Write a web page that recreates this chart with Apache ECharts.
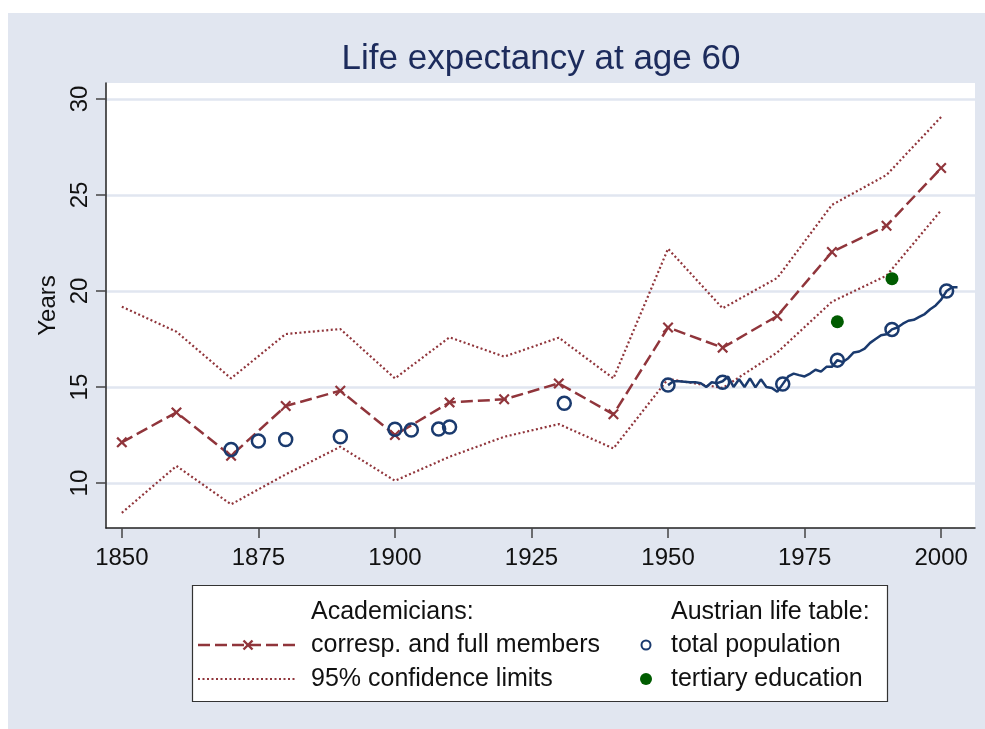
<!DOCTYPE html>
<html>
<head>
<meta charset="utf-8">
<script src="https://cdn.jsdelivr.net/npm/echarts@6/dist/echarts.min.js"></script>
<style>html,body{margin:0;padding:0;background:#fff}#c{width:985px;height:729px}</style>
</head>
<body>
<div id="c"></div>
<script>
const acadYears = [1850,1860,1870,1880,1890,1900,1910,1920,1930,1940,1950,1960,1970,1980,1990,2000];
const acadLE    = [12.12,13.68,11.42,14.01,14.81,12.5,14.2,14.36,15.19,13.58,18.1,17.05,18.7,22.03,23.4,26.4];
const ciUpper   = [19.18,17.88,15.45,17.76,18.02,15.45,17.59,16.58,17.57,15.45,22.2,19.1,20.68,24.48,26.04,29.06];
const ciLower   = [8.45,10.89,8.89,10.45,11.89,10.12,11.37,12.41,13.07,11.8,15.42,14.95,16.8,19.44,20.8,24.2];

const popYears  = [1870,1875,1880,1890,1900,1903,1908,1910,1931,1950,1960,1971,1981,1991,2001];
const popLE     = [11.75,12.19,12.27,12.41,12.8,12.76,12.81,12.92,14.15,15.1,15.25,15.16,16.4,18.0,20.0];

const annualYears = [1950,1951,1952,1953,1954,1955,1956,1957,1958,1959,1960,1961,1962,1963,1964,1965,1966,1967,1968,1969,1970,1971,1972,1973,1974,1975,1976,1977,1978,1979,1980,1981,1982,1983,1984,1985,1986,1987,1988,1989,1990,1991,1992,1993,1994,1995,1996,1997,1998,1999,2000,2001,2002,2003];
const annualLE    = [15.1,15.3,15.3,15.28,15.25,15.25,15.2,15.0,15.25,15.2,15.3,15.55,15.0,15.4,15.0,15.45,14.98,15.4,15.0,14.95,14.75,15.15,15.55,15.7,15.62,15.55,15.7,15.9,15.8,16.05,16.05,16.4,16.3,16.5,16.8,16.85,17.0,17.3,17.5,17.7,17.75,18.0,18.1,18.3,18.45,18.5,18.65,18.8,19.05,19.25,19.55,20.0,20.2,20.2];

const tertYears = [1981,1991];
const tertLE    = [18.4,20.64];

const xTicks = [1850,1875,1900,1925,1950,1975,2000];
const yTicks = [10,15,20,25,30];

const FONT = "'Liberation Sans', Arial, sans-serif";
const MAROON = '#90353b';
const NAVY = '#1a3a6e';
const GREEN = '#005c00';
const BG = '#e1e6f0';
const XMARK = 'path://M0,1.4L1.4,0L5,3.6L8.6,0L10,1.4L6.4,5L10,8.6L8.6,10L5,6.4L1.4,10L0,8.6L3.6,5Z';

const zip = (xs, ys) => xs.map((x, i) => [x, ys[i]]);

const chart = echarts.init(document.getElementById('c'), null, {renderer: 'canvas'});
chart.setOption({
  backgroundColor: '#ffffff',
  animation: false,
  title: {
    text: 'Life expectancy at age 60',
    left: 536, top: 37, textAlign: 'center',
    textStyle: {fontFamily: FONT, fontSize: 35, fontWeight: 'normal', color: '#1c2b5c'}
  },
  grid: {
    left: 106, top: 83, width: 869, height: 445,
    show: true, backgroundColor: '#ffffff', borderWidth: 0
  },
  xAxis: {
    type: 'value', min: 1847.1, max: 2006.2,
    axisLine: {show: true, lineStyle: {color: '#222', width: 1.5}},
    axisTick: {show: true, length: 10, lineStyle: {color: '#444', width: 1.5}, customValues: xTicks},
    axisLabel: {fontFamily: FONT, fontSize: 24, color: '#111', margin: 18, customValues: xTicks,
      formatter: v => String(Math.round(v))},
    splitLine: {show: false}
  },
  yAxis: {
    type: 'value', min: 7.66, max: 30.83,
    name: 'Years', nameLocation: 'middle', nameGap: 44, nameRotate: 90,
    nameTextStyle: {fontFamily: FONT, fontSize: 24, color: '#111'},
    axisLine: {show: true, lineStyle: {color: '#222', width: 1.5}},
    axisTick: {show: true, length: 10, lineStyle: {color: '#444', width: 1.5}, customValues: yTicks},
    axisLabel: {fontFamily: FONT, fontSize: 24, color: '#111', rotate: 90, margin: 14, customValues: yTicks,
      formatter: v => String(Math.round(v))},
    splitLine: {show: true, lineStyle: {color: BG, width: 2.5}}
  },
  graphic: [
    {type: 'rect', z: -10, shape: {x: 8, y: 13, width: 977, height: 716}, style: {fill: BG}},
    {type: 'rect', shape: {x: 192.5, y: 585.5, width: 695, height: 116}, style: {fill: '#fff', stroke: '#333', lineWidth: 1.2}},
    {type: 'text', x: 311, y: 612, style: {text: 'Academicians:', font: '25px ' + FONT, fill: '#111', verticalAlign: 'middle'}},
    {type: 'text', x: 311, y: 645, style: {text: 'corresp. and full members', font: '25px ' + FONT, fill: '#111', verticalAlign: 'middle'}},
    {type: 'text', x: 311, y: 679, style: {text: '95% confidence limits', font: '25px ' + FONT, fill: '#111', verticalAlign: 'middle'}},
    {type: 'text', x: 671, y: 612, style: {text: 'Austrian life table:', font: '25px ' + FONT, fill: '#111', verticalAlign: 'middle'}},
    {type: 'text', x: 671, y: 645, style: {text: 'total population', font: '25px ' + FONT, fill: '#111', verticalAlign: 'middle'}},
    {type: 'text', x: 671, y: 679, style: {text: 'tertiary education', font: '25px ' + FONT, fill: '#111', verticalAlign: 'middle'}},
    {type: 'line', shape: {x1: 198, y1: 645, x2: 297, y2: 645}, style: {stroke: MAROON, lineWidth: 2.5, lineDash: [12, 5]}},
    {type: 'line', shape: {x1: 243.5, y1: 640.5, x2: 252.5, y2: 649.5}, style: {stroke: MAROON, lineWidth: 2.4}},
    {type: 'line', shape: {x1: 243.5, y1: 649.5, x2: 252.5, y2: 640.5}, style: {stroke: MAROON, lineWidth: 2.4}},
    {type: 'line', shape: {x1: 198, y1: 679, x2: 297, y2: 679}, style: {stroke: MAROON, lineWidth: 2.2, lineDash: [2, 2.5]}},
    {type: 'circle', shape: {cx: 646, cy: 645, r: 4.5}, style: {fill: '#fff', stroke: NAVY, lineWidth: 2}},
    {type: 'circle', shape: {cx: 646, cy: 679, r: 6}, style: {fill: GREEN}}
  ],
  series: [
    {
      name: 'upper', type: 'line', data: zip(acadYears, ciUpper), symbol: 'none',
      lineStyle: {color: MAROON, width: 2.2, type: [2, 2.5]}, z: 2
    },
    {
      name: 'lower', type: 'line', data: zip(acadYears, ciLower), symbol: 'none',
      lineStyle: {color: MAROON, width: 2.2, type: [2, 2.5]}, z: 2
    },
    {
      name: 'corresp. and full members', type: 'line', data: zip(acadYears, acadLE),
      symbol: XMARK, symbolSize: 11, showAllSymbol: true,
      itemStyle: {color: MAROON, opacity: 1},
      lineStyle: {color: MAROON, width: 2.5, type: [12, 5]}, z: 3
    },
    {
      name: 'annual', type: 'line', data: zip(annualYears, annualLE), symbol: 'none',
      lineStyle: {color: NAVY, width: 2.5}, z: 4
    },
    {
      name: 'total population', type: 'scatter', data: zip(popYears, popLE),
      symbol: 'circle', symbolSize: 13,
      itemStyle: {color: 'rgba(255,255,255,0)', borderColor: NAVY, borderWidth: 2.5, opacity: 1}, z: 5
    },
    {
      name: 'tertiary education', type: 'scatter', data: zip(tertYears, tertLE),
      symbol: 'circle', symbolSize: 13, itemStyle: {color: GREEN, opacity: 1}, z: 5
    }
  ]
});
</script>
</body>
</html>
